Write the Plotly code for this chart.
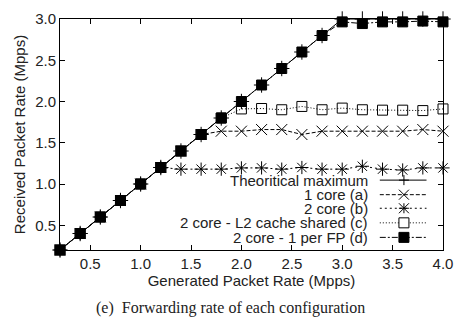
import plotly.graph_objects as go

gen_rate = [0.2, 0.4, 0.6, 0.8, 1.0, 1.2, 1.4, 1.6, 1.8, 2.0,
            2.2, 2.4, 2.6, 2.8, 3.0, 3.2, 3.4, 3.6, 3.8, 4.0]
theoretical = [0.2, 0.4, 0.6, 0.8, 1.0, 1.2, 1.4, 1.6, 1.8, 2.0,
               2.2, 2.4, 2.6, 2.8, 3.0, 3.0, 3.0, 3.0, 3.0, 3.0]
one_core = [0.2, 0.4, 0.6, 0.8, 1.0, 1.2, 1.4, 1.6, 1.64, 1.64,
            1.66, 1.66, 1.60, 1.64, 1.64, 1.64, 1.64, 1.64, 1.66, 1.64]
two_core = [0.2, 0.4, 0.6, 0.8, 1.0, 1.2, 1.18, 1.18, 1.18, 1.195,
            1.195, 1.18, 1.20, 1.18, 1.18, 1.215, 1.18, 1.17, 1.195, 1.195]
two_core_l2 = [0.2, 0.4, 0.6, 0.8, 1.0, 1.2, 1.4, 1.6, 1.8, 1.91,
               1.915, 1.90, 1.94, 1.90, 1.92, 1.90, 1.895, 1.895, 1.89, 1.91]
two_core_fp = [0.2, 0.4, 0.6, 0.8, 1.0, 1.2, 1.4, 1.6, 1.8, 2.0,
               2.2, 2.4, 2.6, 2.8, 2.965, 2.945, 2.965, 2.965, 2.975, 2.965]

x_ticks = [0.5, 1.0, 1.5, 2.0, 2.5, 3.0, 3.5, 4.0]
y_ticks = [0.5, 1.0, 1.5, 2.0, 2.5, 3.0]

legend_labels = ["Theoritical maximum", "1 core (a)", "2 core (b)",
                 "2 core - L2 cache shared (c)", "2 core - 1 per FP (d)"]

FONT = "Liberation Sans, Arial, sans-serif"
BLACK = "black"
TXT = "#222"
FS = 15

fig = go.Figure()

series = [
    (theoretical, "solid", "cross-thin-open", 11, BLACK),
    (one_core, "4px,2px", "x-thin-open", 11, BLACK),
    (two_core, "2px,3px", "asterisk-open", 11, BLACK),
    (two_core_l2, "1px,2px", "square-open", 10, BLACK),
    (two_core_fp, "6px,2px,2px,2px", "square", 10, BLACK),
]
for (ys, dash, sym, size, col), name in zip(series, legend_labels):
    fig.add_trace(go.Scatter(
        x=gen_rate, y=ys, mode="lines+markers", name=name,
        line=dict(color=BLACK, width=1, dash=dash),
        marker=dict(symbol=sym, size=size, color=col,
                    line=dict(color=BLACK, width=1)),
        cliponaxis=False, showlegend=False,
    ))

fig.update_xaxes(
    range=[0.2, 4.0], tickvals=x_ticks, ticktext=[f"{v:.1f}" for v in x_ticks],
    ticks="inside", ticklen=5, tickcolor=BLACK, mirror="ticks",
    showline=True, linecolor=BLACK, linewidth=1, showgrid=False, zeroline=False,
    tickfont=dict(family=FONT, size=FS, color=TXT),
    title=dict(text="Generated Packet Rate (Mpps)", standoff=0,
               font=dict(family=FONT, size=FS, color=TXT)),
)
fig.update_yaxes(
    range=[0.2, 3.0], tickvals=y_ticks, ticktext=[f"{v:.1f}" for v in y_ticks],
    ticks="inside", ticklen=5, tickcolor=BLACK, mirror="ticks",
    showline=True, linecolor=BLACK, linewidth=1, showgrid=False, zeroline=False,
    tickfont=dict(family=FONT, size=FS, color=TXT),
    title=dict(text="Received Packet Rate (Mpps)", standoff=5,
               font=dict(family=FONT, size=FS, color=TXT)),
)

# Manual legend (text right-aligned, sample to its right)
row_y = [0.3025, 0.2395, 0.1807, 0.1176, 0.0546]
text_x = 0.809
line_x0, line_x1, mark_x = 0.835, 0.957, 0.898
shapes = []
annotations = []
for (ys, dash, sym, size, col), name, ry in zip(series, legend_labels, row_y):
    annotations.append(dict(
        x=text_x, y=ry, xref="paper", yref="paper", text=name,
        showarrow=False, xanchor="right", yanchor="middle",
        font=dict(family=FONT, size=FS, color=TXT)))
    shapes.append(dict(type="line", xref="paper", yref="paper",
                       x0=line_x0, x1=line_x1, y0=ry, y1=ry,
                       line=dict(color=BLACK, width=1, dash=dash)))
    h = 5

    def seg(dx0, dy0, dx1, dy1):
        return dict(type="line", xref="paper", yref="paper",
                    xsizemode="pixel", ysizemode="pixel",
                    xanchor=mark_x, yanchor=ry,
                    x0=dx0, y0=dy0, x1=dx1, y1=dy1,
                    line=dict(color=BLACK, width=1))
    if sym == "cross-thin-open":
        shapes += [seg(-h, 0, h, 0), seg(0, -h, 0, h)]
    elif sym == "x-thin-open":
        shapes += [seg(-h, -h, h, h), seg(-h, h, h, -h)]
    elif sym == "asterisk-open":
        shapes += [seg(-h, -h, h, h), seg(-h, h, h, -h), seg(-h, 0, h, 0), seg(0, -h, 0, h)]
    elif sym in ("square-open", "square"):
        shapes.append(dict(type="rect", xref="paper", yref="paper",
                           xsizemode="pixel", ysizemode="pixel",
                           xanchor=mark_x, yanchor=ry,
                           x0=-h, y0=-h, x1=h, y1=h,
                           line=dict(color=BLACK, width=1),
                           fillcolor=BLACK if sym == "square" else "white"))

annotations.append(dict(
    x=0.445, y=-0.252, xref="paper", yref="paper",
    text="(e)  Forwarding rate of each configuration", showarrow=False,
    xanchor="center", yanchor="middle",
    font=dict(family="Liberation Serif, Times New Roman, serif", size=16, color=TXT)))

fig.update_layout(
    width=463, height=327,
    margin=dict(l=60, r=10, t=12, b=77),
    paper_bgcolor="white", plot_bgcolor="white",
    shapes=shapes, annotations=annotations,
)

fig.write_html("out.html")
